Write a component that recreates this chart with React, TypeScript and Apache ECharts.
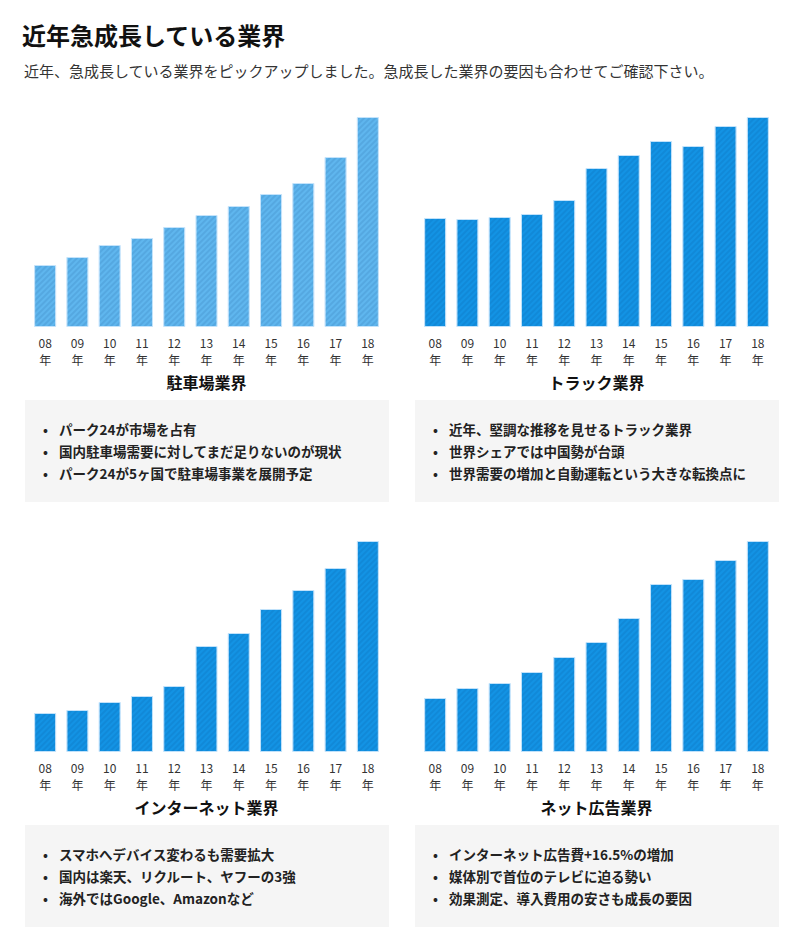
import React, { useEffect, useRef } from "react";
import * as echarts from "echarts";

const years = ["08", "09", "10", "11", "12", "13", "14", "15", "16", "17", "18"];

const parkingValues = [62, 70, 82, 89, 100, 112, 121, 133, 144, 170, 210];
const truckValues = [109, 108, 110, 113, 127, 159, 172, 186, 181, 201, 210];
const internetValues = [39, 42, 50, 56, 66, 106, 119, 143, 162, 184, 211];
const netAdValues = [54, 64, 69, 80, 95, 110, 134, 168, 173, 192, 211];

const chartTitles = ["駐車場業界", "トラック業界", "インターネット業界", "ネット広告業界"];

const parkingNotes = [
  "パーク24が市場を占有",
  "国内駐車場需要に対してまだ足りないのが現状",
  "パーク24が5ヶ国で駐車場事業を展開予定",
];
const truckNotes = [
  "近年、堅調な推移を見せるトラック業界",
  "世界シェアでは中国勢が台頭",
  "世界需要の増加と自動運転という大きな転換点に",
];
const internetNotes = [
  "スマホへデバイス変わるも需要拡大",
  "国内は楽天、リクルート、ヤフーの3強",
  "海外ではGoogle、Amazonなど",
];
const netAdNotes = [
  "インターネット広告費+16.5%の増加",
  "媒体別で首位のテレビに迫る勢い",
  "効果測定、導入費用の安さも成長の要因",
];

const pageTitle = "近年急成長している業界";
const pageSubtitle =
  "近年、急成長している業界をピックアップしました。急成長した業界の要因も合わせてご確認下さい。";

const FONT = '"Noto Sans CJK JP", "Noto Sans", sans-serif';

export default function App() {
  const ref = useRef<HTMLDivElement>(null);

  useEffect(() => {
    if (!ref.current) return;
    const chart = echarts.init(ref.current, undefined, { renderer: "svg" });

    const panels = [
      { values: parkingValues, notes: parkingNotes, color: "#5FB6EE", max: 210, left: 29, top: 117, height: 210, boxX: 25, boxY: 400 },
      { values: truckValues, notes: truckNotes, color: "#1393E4", max: 210, left: 419, top: 117, height: 210, boxX: 415, boxY: 400 },
      { values: internetValues, notes: internetNotes, color: "#1393E4", max: 211, left: 29, top: 541, height: 211, boxX: 25, boxY: 825 },
      { values: netAdValues, notes: netAdNotes, color: "#1393E4", max: 211, left: 419, top: 541, height: 211, boxX: 415, boxY: 825 },
    ];
    const gridWidth = 355;

    const graphics: any[] = [
      {
        type: "text",
        left: 22,
        top: 22,
        style: { text: pageTitle, fill: "#111", font: `bold 24px ${FONT}` },
      },
      {
        type: "text",
        left: 24,
        top: 63,
        style: { text: pageSubtitle, fill: "#333", font: `15px ${FONT}` },
      },
    ];

    panels.forEach((p, i) => {
      const baseline = p.top + p.height;
      graphics.push({
        type: "text",
        x: p.left + gridWidth / 2,
        y: baseline + 55,
        style: {
          text: chartTitles[i],
          font: `bold 16px ${FONT}`,
          fill: "#111",
          align: "center",
          verticalAlign: "middle",
        },
      });
      graphics.push({
        type: "rect",
        shape: { x: p.boxX, y: p.boxY, width: 364, height: 102 },
        style: { fill: "#f5f5f5" },
        z: 0,
      });
      p.notes.forEach((n, j) => {
        const y = p.boxY + 29 + j * 22;
        graphics.push({
          type: "text",
          x: p.boxX + 18,
          y,
          style: { text: "•", font: `bold 13px ${FONT}`, fill: "#222", verticalAlign: "middle" },
          z: 1,
        });
        graphics.push({
          type: "text",
          x: p.boxX + 34,
          y,
          style: { text: n, font: `bold 13.5px ${FONT}`, fill: "#222", verticalAlign: "middle" },
          z: 1,
        });
      });
    });

    const option: any = {
      animation: false,
      textStyle: { fontFamily: FONT },
      grid: panels.map((p) => ({ left: p.left, top: p.top, width: gridWidth, height: p.height, containLabel: false })),
      xAxis: panels.map((p, i) => ({
        type: "category",
        gridIndex: i,
        data: years,
        axisLine: { show: false },
        axisTick: { show: false },
        axisLabel: {
          formatter: (v: string) => `${v}\n年`,
          fontSize: 12,
          lineHeight: 17,
          color: "#333",
          margin: 7,
          fontFamily: FONT,
        },
      })),
      yAxis: panels.map((p, i) => ({
        type: "value",
        gridIndex: i,
        min: 0,
        max: p.max,
        show: false,
        splitLine: { show: false },
      })),
      series: panels.map((p, i) => ({
        type: "bar",
        xAxisIndex: i,
        yAxisIndex: i,
        data: p.values,
        barWidth: 22,
        itemStyle: {
          color: p.color,
          borderColor: "rgba(200,230,252,0.7)",
          borderWidth: 1,
          decal: {
            symbol: "rect",
            symbolSize: 1,
            dashArrayX: [1, 0],
            dashArrayY: [1.2, 2],
            rotation: -Math.PI / 4,
            color: "rgba(0,50,120,0.11)",
          },
        },
      })),
      graphic: graphics,
    };

    chart.setOption(option);
    return () => chart.dispose();
  }, []);

  return (
    <div
      ref={ref}
      style={{ position: "absolute", left: 0, top: 0, width: 800, height: 928, background: "#fff" }}
    />
  );
}
